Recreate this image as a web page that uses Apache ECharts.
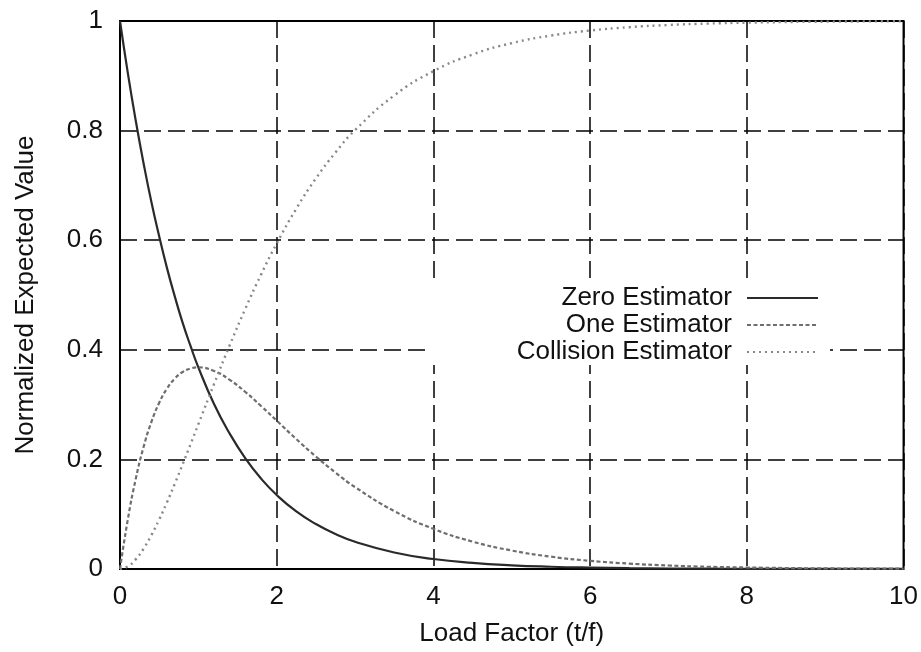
<!DOCTYPE html>
<html>
<head>
<meta charset="utf-8">
<script src="https://cdn.jsdelivr.net/npm/echarts@6/dist/echarts.min.js"></script>
<style>html,body{margin:0;padding:0;background:#fff}#c{width:921px;height:652px}</style>
</head>
<body>
<div id="c"></div>
<script>
var xValues = [0, 0.1, 0.2, 0.3, 0.4, 0.5, 0.6, 0.7, 0.8, 0.9, 1.0, 1.2, 1.4, 1.6, 1.8, 2.0, 2.25, 2.5, 2.75, 3.0, 3.5, 4.0, 4.5, 5.0, 5.5, 6.0, 6.5, 7.0, 7.5, 8.0, 9.0, 10.0];
var zeroValues = [1, 0.905, 0.819, 0.741, 0.670, 0.607, 0.549, 0.497, 0.449, 0.407, 0.368, 0.301, 0.247, 0.202, 0.165, 0.135, 0.105, 0.082, 0.064, 0.0498, 0.0302, 0.0183, 0.0111, 0.0067, 0.0041, 0.0025, 0.0015, 0.0009, 0.00055, 0.00034, 0.0001, 0.00005];
var oneValues = [0, 0.0905, 0.1637, 0.2222, 0.2681, 0.3033, 0.3293, 0.3476, 0.3595, 0.3659, 0.3679, 0.3614, 0.3452, 0.3230, 0.2975, 0.2707, 0.2371, 0.2052, 0.1760, 0.1494, 0.1057, 0.0733, 0.0500, 0.0337, 0.0225, 0.0149, 0.0098, 0.0064, 0.0041, 0.0027, 0.0011, 0.0005];
var collisionValues = [0, 0.0047, 0.0175, 0.0369, 0.0616, 0.0902, 0.1219, 0.1558, 0.1912, 0.2275, 0.2642, 0.3374, 0.4082, 0.4751, 0.5372, 0.5940, 0.6575, 0.7127, 0.7600, 0.8009, 0.8641, 0.9084, 0.9389, 0.9596, 0.9734, 0.9826, 0.9887, 0.9927, 0.9953, 0.9970, 0.9988, 0.9995];
var seriesNames = ['Zero Estimator', 'One Estimator', 'Collision Estimator'];
var xAxisTitle = 'Load Factor (t/f)';
var yAxisTitle = 'Normalized Expected Value';

function pairs(ys) { return xValues.map(function (x, i) { return [x, ys[i]]; }); }

var FONT = '"Liberation Sans", Arial, sans-serif';
var chart = echarts.init(document.getElementById('c'), null, { renderer: 'canvas' });
chart.setOption({
  animation: false,
  backgroundColor: '#fff',
  grid: { left: 120, right: 17, top: 21, bottom: 79, show: true, borderColor: '#000', borderWidth: 2, backgroundColor: 'transparent' },
  xAxis: {
    type: 'value', min: 0, max: 10, interval: 2,
    name: xAxisTitle, nameLocation: 'middle', nameGap: 52,
    nameTextStyle: { fontFamily: FONT, fontSize: 26, color: '#111' },
    axisLine: { show: false }, axisTick: { show: false },
    axisLabel: { fontFamily: FONT, fontSize: 26, color: '#111', margin: 15 },
    splitLine: { show: true, lineStyle: { color: '#000', width: 1.5, type: [17, 7] } }
  },
  yAxis: {
    type: 'value', min: 0, max: 1, interval: 0.2,
    name: yAxisTitle, nameLocation: 'middle', nameGap: 81,
    nameTextStyle: { fontFamily: FONT, fontSize: 26, color: '#111' },
    axisLine: { show: false }, axisTick: { show: false },
    axisLabel: { fontFamily: FONT, fontSize: 26, color: '#111', margin: 17 },
    splitLine: { show: true, lineStyle: { color: '#000', width: 1.5, type: [17, 7] } }
  },
  legend: {
    orient: 'vertical', align: 'right',
    right: 91, top: 285,
    itemWidth: 71, itemHeight: 14, itemGap: 1,
    padding: [0, 11, 0, 86],
    backgroundColor: '#fff',
    textStyle: { fontFamily: FONT, fontSize: 26, color: '#111', padding: [0, 10, 0, 0] },
    itemStyle: { opacity: 0 },
    selectedMode: false,
    data: seriesNames
  },
  series: [
    { name: seriesNames[0], type: 'line', data: pairs(zeroValues), smooth: true, symbol: 'circle', showSymbol: false, z: 3,
      lineStyle: { color: '#2a2a2a', width: 2.2, type: 'solid' }, itemStyle: { color: '#2a2a2a' } },
    { name: seriesNames[1], type: 'line', data: pairs(oneValues), smooth: true, symbol: 'circle', showSymbol: false, z: 3,
      lineStyle: { color: '#6e6e6e', width: 2.2, type: [4, 2.5] }, itemStyle: { color: '#6e6e6e' } },
    { name: seriesNames[2], type: 'line', data: pairs(collisionValues), smooth: true, symbol: 'circle', showSymbol: false, z: 3,
      lineStyle: { color: '#888', width: 2.4, type: [2, 4] }, itemStyle: { color: '#888' } }
  ]
});
</script>
</body>
</html>
